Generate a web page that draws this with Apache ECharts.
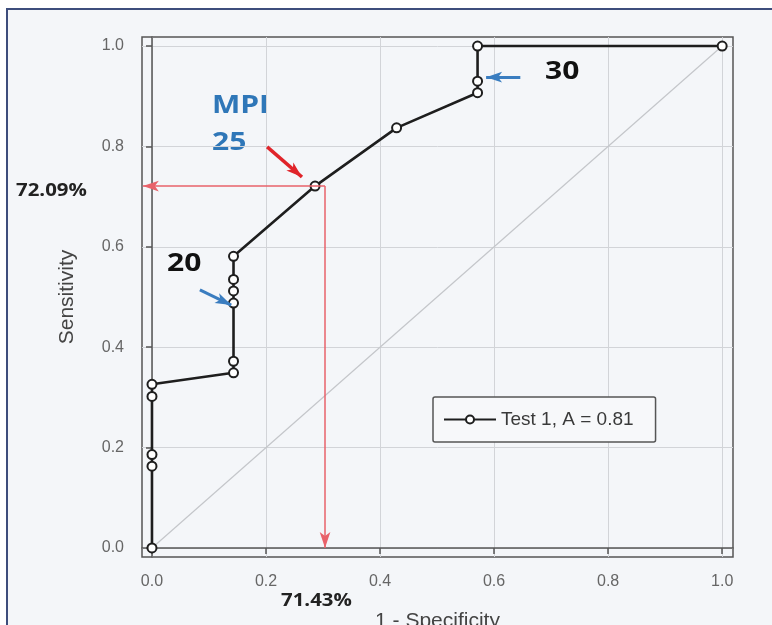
<!DOCTYPE html>
<html>
<head>
<meta charset="utf-8">
<script src="https://cdn.jsdelivr.net/npm/echarts@6/dist/echarts.min.js"></script>
<style>
  html, body { margin: 0; padding: 0; background: #fff; }
  .frame {
    position: absolute; left: 6px; top: 8px; width: 766px; height: 617px;
    border-top: 2px solid #3d4d7c; border-left: 2px solid #3d4d7c;
    background: #f4f6f9; box-sizing: border-box;
  }
  #chart { position: absolute; left: 0; top: 0; width: 772px; height: 625px; }
</style>
</head>
<body>
<div class="frame"></div>
<div id="chart"></div>
<script>
  // ROC curve points (1 - specificity, sensitivity)
  const fpr = [0, 0, 0, 0, 0, 0.143, 0.143, 0.143, 0.143, 0.143, 0.143, 0.286, 0.429, 0.571, 0.571, 0.571, 1.0];
  const tpr = [0, 0.163, 0.186, 0.302, 0.326, 0.349, 0.372, 0.488, 0.512, 0.535, 0.581, 0.721, 0.837, 0.907, 0.930, 1.0, 1.0];
  const refX = [0, 1];
  const refY = [0, 1];
  const ticks = [0, 0.2, 0.4, 0.6, 0.8, 1.0];
  const legendName = 'Test 1, A = 0.81';

  // cut-off guide (MPI 25)
  const cutX = 0.3035;
  const cutY = 0.7209;

  const rocData = fpr.map((x, i) => [x, tpr[i]]);
  const refData = refX.map((x, i) => [x, refY[i]]);

  const chart = echarts.init(document.getElementById('chart'));

  const axisCommon = {
    type: 'value',
    splitNumber: 5,
    axisLine: { show: true, lineStyle: { color: '#555', width: 1.5 } },
    axisTick: { show: true, length: 6, inside: false, customValues: ticks, lineStyle: { color: '#555', width: 1.5 } },
    axisLabel: {
      customValues: ticks, color: '#666', fontSize: 16, fontFamily: 'Arial',
      formatter: v => v.toFixed(1)
    },
    splitLine: { show: true, lineStyle: { color: '#d2d4d8', width: 1 } },
    nameLocation: 'middle',
    nameTextStyle: { color: '#444', fontSize: 21, fontFamily: 'Arial' }
  };

  const arrow = (from, to, color, width, size) => [
    { coord: from, lineStyle: { color: color, width: width, type: 'solid' }, symbolSize: size },
    { coord: to }
  ];

  // bold annotation text, slightly stretched like the source image
  const note = (text, x, y, size, color) => ({
    type: 'text', x: x, y: y, scaleX: 1.2,
    style: { text: text, x: 0, y: 0, verticalAlign: 'middle', fill: color, font: 'bold ' + size + 'px "Open Sans"' }
  });

  const option = {
    animation: false,
    backgroundColor: 'transparent',
    grid: {
      left: 142, right: 39, top: 37, bottom: 68,
      outerBoundsMode: 'none', containLabel: false,
      show: true, borderColor: '#555', borderWidth: 1.5, backgroundColor: 'transparent'
    },
    xAxis: Object.assign({}, axisCommon, {
      min: -0.0175, max: 1.019,
      name: '1 - Specificity', nameGap: 54,
      axisLabel: Object.assign({}, axisCommon.axisLabel, { margin: 17 })
    }),
    yAxis: Object.assign({}, axisCommon, {
      min: -0.018, max: 1.018,
      name: 'Sensitivity', nameGap: 64,
      axisLabel: Object.assign({}, axisCommon.axisLabel, { margin: 18 })
    }),
    legend: {
      data: [legendName],
      left: 433, top: 397,
      padding: [13, 22, 13, 10],
      itemWidth: 52, itemHeight: 10, itemGap: 8,
      backgroundColor: '#f7f8fa',
      borderColor: '#555', borderWidth: 1.5, borderRadius: 2,
      textStyle: { color: '#3a3a3a', fontSize: 19, fontFamily: 'Arial' }
    },
    series: [
      {
        name: 'reference',
        type: 'line',
        data: refData,
        symbol: 'none',
        silent: true,
        lineStyle: { color: '#c4c6ca', width: 1.2 },
        z: 1
      },
      {
        name: 'guides',
        type: 'line',
        data: [],
        markLine: {
          silent: true,
          symbol: ['none', 'arrow'],
          label: { show: false },
          data: [
            arrow([cutX, cutY], [-0.016, cutY], '#e8626a', 1.5, 10),
            arrow([cutX, cutY], [cutX, 0], '#e8626a', 1.5, 10),
            arrow([0.202, 0.799], [0.263, 0.739], '#e0242a', 3.5, 14),
            arrow([0.084, 0.514], [0.139, 0.484], '#3a7dc0', 3, 12),
            arrow([0.646, 0.938], [0.586, 0.938], '#3a7dc0', 3, 12)
          ]
        },
        z: 2
      },
      {
        name: legendName,
        type: 'line',
        data: rocData,
        symbol: 'emptyCircle',
        symbolSize: 9,
        itemStyle: { color: '#1e1e1e', borderWidth: 1.6 },
        lineStyle: { color: '#1e1e1e', width: 2.6 },
        z: 3
      }
    ],
    graphic: [
      note('MPI', 212, 106, 25, '#2f77b8'),
      note('25', 212, 143, 25, '#2f77b8'),
      note('20', 167, 264, 25, '#111'),
      note('30', 545, 72, 25, '#111'),
      note('72.09%', 16, 191, 17, '#222'),
      note('71.43%', 281, 601, 17, '#222')
    ]
  };

  chart.setOption(option);
</script>
</body>
</html>
